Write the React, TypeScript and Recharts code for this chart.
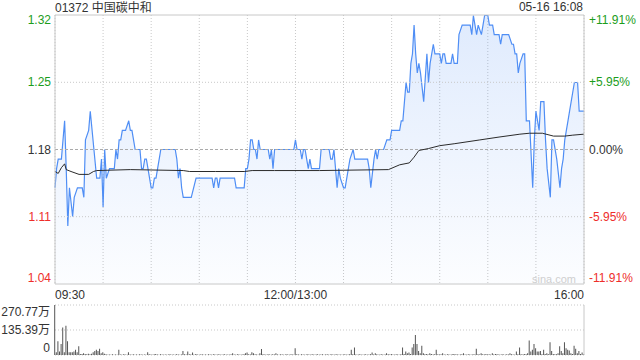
import React from "react";
import {
  ComposedChart,
  Area,
  Line,
  XAxis,
  YAxis,
  CartesianGrid,
  ReferenceLine,
  BarChart,
  Bar,
} from "recharts";

// previous close and the percent ticks shown on the right axis
const preClose = 1.18;
const pctTicks = [-11.91, -5.95, 0, 5.95, 11.91];

// minutes after 09:30 (lunch break squeezed out), 330 = 16:00
const timeTicks = [0, 30, 60, 90, 120, 150, 180, 210, 240, 270, 300, 330];
const timeLabels: Record<number, string> = { 0: "09:30", 150: "12:00/13:00", 330: "16:00" };

const priceMinutes = [
  0, 1, 2, 4, 6, 7, 8, 9, 11, 12, 14, 17, 18, 19, 21, 22, 26, 28, 29, 30,
  31, 32, 34, 37, 38, 39, 40, 41, 42, 44, 46, 47, 48, 49, 50, 53, 54, 55, 56, 57,
  58, 60, 61, 62, 63, 64, 65, 66, 75, 76, 77, 78, 79, 80, 85, 88, 98, 99, 100, 101,
  102, 103, 112, 113, 118, 119, 120, 121, 122, 123, 124, 125, 126, 127, 128, 133, 134, 135, 136, 137,
  149, 150, 151, 153, 154, 155, 156, 157, 158, 159, 160, 165, 166, 171, 172, 173, 174, 175, 176, 177,
  178, 180, 181, 183, 184, 186, 187, 195, 196, 197, 199, 200, 201, 202, 205, 207, 209, 210, 215, 216,
  217, 218, 219, 220, 221, 222, 223, 224, 225, 226, 227, 228, 230, 232, 233, 234, 235, 236, 237, 240,
  241, 242, 243, 244, 247, 248, 249, 251, 252, 254, 259, 260, 261, 262, 263, 264, 266, 267, 268, 270,
  271, 273, 274, 277, 278, 279, 283, 285, 286, 287, 288, 289, 290, 292, 293, 294, 296, 298, 299, 300,
  302, 303, 305, 306, 307, 309, 310, 311, 313, 315, 316, 317, 318, 320, 321, 324, 326, 327, 330,
];
const prices = [
  1.14, 1.16, 1.17, 1.17, 1.21, 1.16, 1.10, 1.14, 1.11, 1.13, 1.14, 1.14, 1.13, 1.19, 1.20, 1.22, 1.15, 1.15, 1.17, 1.12,
  1.18, 1.15, 1.16, 1.16, 1.18, 1.17, 1.19, 1.19, 1.20, 1.20, 1.21, 1.20, 1.20, 1.19, 1.18, 1.18, 1.16, 1.16, 1.17, 1.17,
  1.16, 1.14, 1.14, 1.15, 1.15, 1.16, 1.17, 1.18, 1.18, 1.17, 1.15, 1.16, 1.14, 1.13, 1.13, 1.15, 1.15, 1.14, 1.15, 1.15,
  1.14, 1.15, 1.15, 1.14, 1.14, 1.16, 1.16, 1.17, 1.19, 1.19, 1.18, 1.18, 1.17, 1.19, 1.18, 1.18, 1.17, 1.18, 1.16, 1.18,
  1.18, 1.19, 1.18, 1.18, 1.17, 1.18, 1.18, 1.17, 1.16, 1.17, 1.16, 1.16, 1.18, 1.18, 1.17, 1.17, 1.18, 1.16, 1.14, 1.16,
  1.15, 1.14, 1.14, 1.16, 1.17, 1.18, 1.17, 1.17, 1.16, 1.14, 1.17, 1.18, 1.17, 1.18, 1.18, 1.19, 1.19, 1.20, 1.20, 1.21,
  1.21, 1.23, 1.25, 1.24, 1.24, 1.27, 1.28, 1.31, 1.28, 1.26, 1.27, 1.26, 1.23, 1.28, 1.25, 1.27, 1.28, 1.29, 1.28, 1.28,
  1.27, 1.28, 1.28, 1.27, 1.27, 1.28, 1.27, 1.27, 1.30, 1.31, 1.31, 1.30, 1.32, 1.31, 1.30, 1.31, 1.30, 1.31, 1.32, 1.32,
  1.31, 1.31, 1.30, 1.30, 1.29, 1.30, 1.30, 1.29, 1.29, 1.28, 1.28, 1.26, 1.27, 1.28, 1.28, 1.21, 1.21, 1.14, 1.19, 1.22,
  1.20, 1.23, 1.23, 1.19, 1.16, 1.13, 1.19, 1.19, 1.17, 1.14, 1.16, 1.17, 1.19, 1.21, 1.22, 1.25, 1.25, 1.22, 1.22,
];

// average price line
const avgMinutes = [
  0, 2, 4, 6, 7, 10, 15, 21, 24, 26, 47, 80, 84, 100, 118, 123, 137, 165, 208, 215,
  221, 224, 227, 233, 240, 249, 265, 277, 290, 296, 304, 311, 318, 323, 330,
];
const avgPrices = [
  1.157, 1.155, 1.161, 1.165, 1.159, 1.157, 1.154, 1.154, 1.157, 1.158, 1.159, 1.158, 1.157, 1.157, 1.157, 1.158, 1.158, 1.158, 1.159, 1.164,
  1.166, 1.172, 1.179, 1.181, 1.184, 1.186, 1.19, 1.193, 1.196, 1.197, 1.197, 1.194, 1.194, 1.195, 1.196,
];

// volume per minute, in 万 shares
const volumes = [
  270.77, 15, 75, 19, 60, 149, 15, 159, 75, 15,
  15, 15, 19, 28, 15, 47, 6, 6, 9, 6,
  4, 7, 4, 7, 15, 22, 28, 22, 34, 9,
  15, 7, 4, 2, 3, 2, 4, 2, 3, 2,
  28, 3, 2, 4, 3, 2, 15, 3, 2, 4,
  2, 3, 2, 4, 3, 2, 3, 2, 15, 4,
  3, 2, 4, 6, 3, 2, 4, 3, 2, 3,
  2, 3, 4, 2, 3, 2, 4, 3, 2, 3,
  22, 4, 3, 19, 4, 3, 13, 2, 6, 3,
  2, 3, 4, 2, 3, 2, 4, 3, 2, 4,
  3, 2, 4, 3, 2, 3, 4, 2, 3, 2,
  4, 9, 3, 2, 4, 3, 2, 3, 4, 9,
  13, 4, 3, 15, 9, 4, 3, 2, 9, 32,
  4, 3, 2, 4, 3, 2, 4, 3, 9, 3,
  2, 4, 3, 2, 3, 4, 2, 3, 4, 2,
  37, 4, 3, 2, 4, 3, 2, 3, 4, 2,
  3, 4, 2, 3, 4, 2, 3, 4, 2, 3,
  4, 2, 3, 4, 2, 3, 4, 2, 3, 2,
  3, 4, 2, 3, 4, 28, 4, 41, 3, 2,
  4, 3, 2, 3, 4, 2, 3, 4, 13, 3,
  9, 4, 2, 3, 4, 2, 3, 9, 4, 3,
  6, 3, 2, 4, 3, 2, 4, 41, 6, 19,
  9, 13, 6, 41, 60, 108, 60, 22, 9, 50,
  9, 4, 6, 3, 9, 6, 3, 4, 28, 4,
  3, 4, 9, 3, 2, 4, 3, 2, 4, 6,
  3, 4, 2, 3, 4, 9, 3, 2, 4, 3,
  2, 4, 3, 34, 4, 3, 9, 4, 3, 6,
  3, 4, 2, 9, 3, 6, 4, 3, 2, 4,
  3, 2, 4, 3, 9, 4, 3, 2, 19, 4,
  41, 4, 3, 6, 4, 9, 78, 19, 28, 60,
  37, 19, 19, 22, 4, 28, 6, 9, 4, 69,
  22, 6, 4, 4, 9, 47, 22, 9, 69, 37,
  28, 24, 9, 6, 50, 34, 9, 22, 6, 13,
  4,
];
const volTicks = [0, 135.39, 270.77];

const FONT = "Arial, 'Liberation Sans', 'Noto Sans CJK SC', sans-serif";
const GREEN = "#1c9d1c";
const RED = "#ee2e2a";
const DARK = "#333";
const GRID = "#c8c8c8";
const BLUE = "#4f8ef5";

const priceDomain = [preClose * (1 - 0.1191), preClose * (1 + 0.1191)];
const priceTicks = pctTicks.map((p) => preClose * (1 + p / 100));

// merge price and avg points into one table
const allMinutes = Array.from(new Set([...priceMinutes, ...avgMinutes])).sort((a, b) => a - b);
const mainData = allMinutes.map((m) => {
  const pi = priceMinutes.indexOf(m);
  const ai = avgMinutes.indexOf(m);
  return {
    m,
    price: pi >= 0 ? prices[pi] : undefined,
    avg: ai >= 0 ? avgPrices[ai] : undefined,
  };
});
const volData = volumes.map((v, i) => ({ m: i, v }));

const colorOf = (pct: number) => (Math.abs(pct) < 0.005 ? DARK : pct > 0 ? GREEN : RED);
const edgeDy = (pct: number) => (pct > 11 ? 9 : pct < -11 ? -2 : 4);

const PriceTick = (props: any) => {
  const { x, y, payload } = props;
  const pct = (payload.value / preClose - 1) * 100;
  return (
    <text x={x} y={y + edgeDy(pct)} textAnchor="end" fontSize={12} fontFamily={FONT} fill={colorOf(pct)}>
      {payload.value.toFixed(2)}
    </text>
  );
};

const PctTick = (props: any) => {
  const { x, y, payload } = props;
  const pct = (payload.value / preClose - 1) * 100;
  const label = (pct > 0.005 ? "+" : "") + (Math.abs(pct) < 0.005 ? "0.00" : pct.toFixed(2)) + "%";
  return (
    <text x={x} y={y + edgeDy(pct)} textAnchor="start" fontSize={12} fontFamily={FONT} fill={colorOf(pct)}>
      {label}
    </text>
  );
};

const TimeTick = (props: any) => {
  const { x, y, payload } = props;
  const label = timeLabels[payload.value];
  if (!label) return null;
  const anchor = payload.value === 0 ? "start" : payload.value === 330 ? "end" : "middle";
  return (
    <text x={x} y={y + 13} textAnchor={anchor} fontSize={12} fontFamily={FONT} fill={DARK}>
      {label}
    </text>
  );
};

const VolTick = (props: any) => {
  const { x, y, payload } = props;
  const v = payload.value;
  const dy = v > 200 ? 11 : v === 0 ? -3 : 4;
  return (
    <text x={x} y={y + dy} textAnchor="end" fontSize={12} fontFamily={FONT} fill={DARK}>
      {v === 0 ? "0" : v.toFixed(2) + "万"}
    </text>
  );
};

export default function App() {
  return (
    <div style={{ position: "absolute", left: 0, top: 0, width: 640, height: 360, background: "#fff" }}>
      <svg width={640} height={20} style={{ position: "absolute", left: 0, top: 0 }}>
        <text x={55} y={12} fontSize={12} fontFamily={FONT} fill={DARK}>
          01372 中国碳中和
        </text>
        <text x={583} y={11} textAnchor="end" fontSize={12} fontFamily={FONT} fill={DARK}>
          05-16 16:08
        </text>
      </svg>
      <div style={{ position: "absolute", left: 0, top: 0 }}>
        <ComposedChart width={640} height={310} data={mainData} margin={{ top: 15, right: 0, bottom: 0, left: 0 }}>
          <defs>
            <linearGradient id="priceFill" x1="0" y1="0" x2="0" y2="1">
              <stop offset="0%" stopColor={BLUE} stopOpacity={0.3} />
              <stop offset="100%" stopColor={BLUE} stopOpacity={0.03} />
            </linearGradient>
          </defs>
          <CartesianGrid horizontal={false} stroke={GRID} strokeDasharray="1 2" />
          <XAxis
            dataKey="m"
            type="number"
            domain={[0, 330]}
            ticks={timeTicks}
            tick={<TimeTick />}
            tickLine={false}
            tickSize={0}
            height={26}
            axisLine={{ stroke: GRID }}
            interval={0}
          />
          <YAxis
            yAxisId="p"
            domain={priceDomain}
            ticks={priceTicks}
            tick={<PriceTick />}
            tickLine={false}
            tickSize={0}
            tickMargin={4}
            width={55}
            axisLine={{ stroke: GRID }}
            allowDataOverflow
            interval={0}
          />
          <YAxis
            yAxisId="r"
            orientation="right"
            domain={priceDomain}
            ticks={priceTicks}
            tick={<PctTick />}
            tickLine={false}
            tickSize={0}
            tickMargin={5}
            width={56}
            axisLine={{ stroke: GRID }}
            allowDataOverflow
            interval={0}
          />
          {priceTicks.slice(1, 4).map((t, i) => (
            <ReferenceLine
              key={i}
              yAxisId="p"
              y={t}
              stroke={i === 1 ? "#aaa" : GRID}
              strokeDasharray={i === 1 ? "3 2" : "1 2"}
            />
          ))}
          <ReferenceLine yAxisId="p" y={priceDomain[1]} stroke={GRID} />
          <Area
            yAxisId="p"
            type="linear"
            dataKey="price"
            stroke={BLUE}
            strokeWidth={1.2}
            fill="url(#priceFill)"
            connectNulls
            dot={false}
            isAnimationActive={false}
          />
          <Line
            yAxisId="p"
            type="linear"
            dataKey="avg"
            stroke="#2b2b2b"
            strokeWidth={1}
            connectNulls
            dot={false}
            isAnimationActive={false}
          />
        </ComposedChart>
      </div>
      <div
        style={{
          position: "absolute",
          left: 532,
          top: 274,
          fontSize: 11,
          fontFamily: FONT,
          color: "#cfcfcf",
          lineHeight: "11px",
        }}
      >
        sina.com
      </div>
      <div style={{ position: "absolute", left: 0, top: 300 }}>
        <BarChart width={640} height={60} data={volData} margin={{ top: 5, right: 0, bottom: 5, left: 0 }}>
          <CartesianGrid vertical={false} stroke={GRID} strokeDasharray="1 2" />
          <XAxis dataKey="m" type="number" domain={[0, 330]} hide />
          <YAxis
            domain={[0, 270.77]}
            ticks={volTicks}
            tick={<VolTick />}
            tickLine={false}
            tickSize={0}
            tickMargin={5}
            width={55}
            axisLine={false}
            interval={0}
          />
          <YAxis yAxisId="r" orientation="right" width={56} tick={false} axisLine={{ stroke: GRID }} />
          <Bar dataKey="v" fill="#555" barSize={1} isAnimationActive={false} />
        </BarChart>
      </div>
    </div>
  );
}
